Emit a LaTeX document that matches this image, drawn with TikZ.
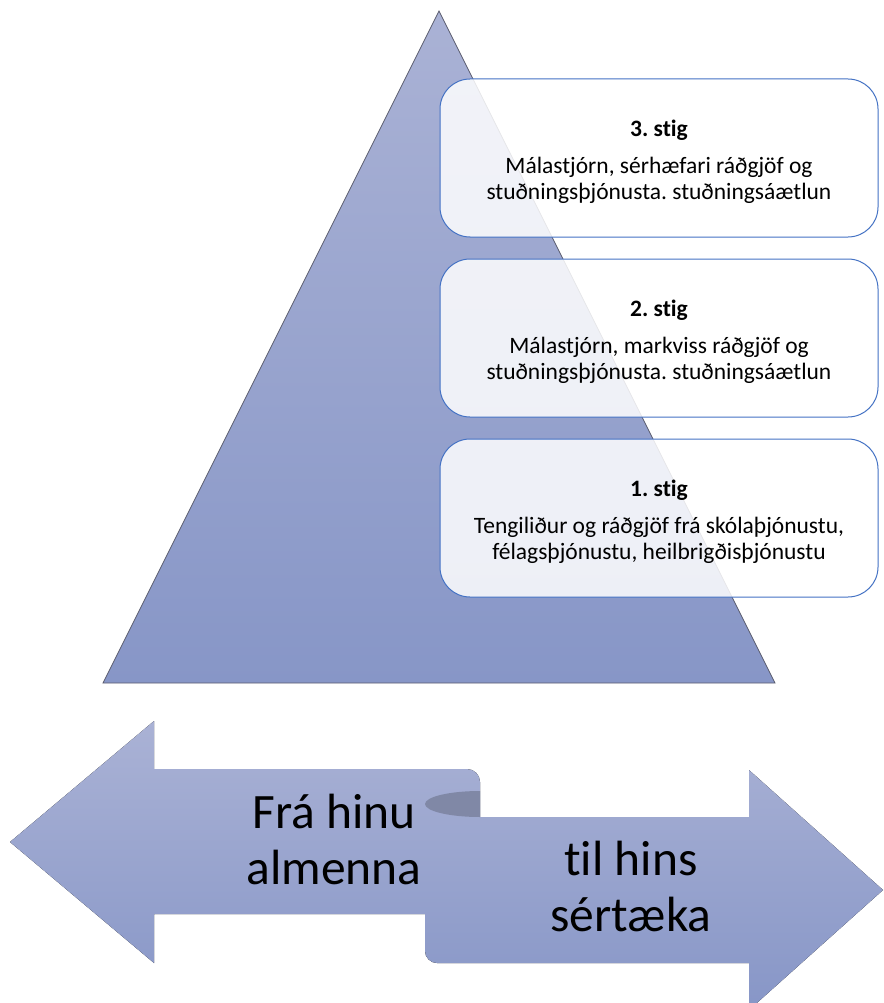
\documentclass[tikz,border=0pt]{standalone}
\usepackage{fontspec}
\setmainfont[Ligatures={NoCommon}]{Carlito}
\usetikzlibrary{positioning}

\definecolor{pyrtop}{RGB}{170,178,213}
\definecolor{pyrbottom}{RGB}{135,150,199}
\definecolor{stigline}{RGB}{68,114,196}
\definecolor{curl}{RGB}{128,136,166}
\definecolor{pyredge}{RGB}{90,92,110}

\begin{document}
\frenchspacing
\begin{tikzpicture}[x=1pt,y=-1pt,node distance=21pt,
	stig box/.style={draw=stigline,line width=1pt,fill=white,fill opacity=0.85,
		rounded corners=30pt,minimum width=438pt,minimum height=158pt},
	stig text/.style={align=center,font=\fontsize{23.5}{26}\selectfont},
	arrow text/.style={align=center,font=\fontsize{49.5}{56}\selectfont}]
	
	\clip (0,0) rectangle (883,1003);
	
	% pyramid
	\draw[pyredge,line width=0.8pt,top color=pyrtop,bottom color=pyrbottom]
	(439,11) -- (775,683) -- (103,683) -- cycle;
	
	\node[stig box] (stig3) at (659,158) {};
	\node[stig box,below=of stig3] (stig2) {};
	\node[stig box,below=of stig2] (stig1) {};
	
	\node[stig text] (stig3 text) at ([yshift=-4pt]stig3.center) {\textbf{3. stig}\\[11pt]
		Málastjórn, sérhæfari ráðgjöf og\\ stuðningsþjónusta. stuðningsáætlun};
	\node[stig text] (stig2 text) at ([yshift=-4pt]stig2.center) {\textbf{2. stig}\\[11pt]
		Málastjórn, markviss ráðgjöf og\\ stuðningsþjónusta. stuðningsáætlun};
	\node[stig text] (stig1 text) at ([yshift=-4pt]stig1.center) {\textbf{1. stig}\\[11pt]
		Tengiliður og ráðgjöf frá skólaþjónustu,\\ félagsþjónustu, heilbrigðisþjónustu};
	
	% double arrow
	\fill[top color=pyrtop,bottom color=pyrbottom]
	(10,842) -- (154,721) -- (154,769) [rounded corners=13pt] -- (480,769)
	[sharp corners] -- (480,817) -- (749,817) -- (749,770) -- (883,890)
	-- (749,1010) -- (749,963) [rounded corners=12pt] -- (425,963)
	[sharp corners] -- (425,914) -- (154,914) -- (154,963) -- cycle;
	\fill[curl] (480,791) arc[start angle=270,end angle=90,x radius=55,y radius=13] -- cycle;
	
	\node[arrow text] (fra) at (334,839) {Frá hinu\\almenna};
	\node[arrow text] (til) at (631,886) {til hins\\sértæka};
\end{tikzpicture}
\end{document}
